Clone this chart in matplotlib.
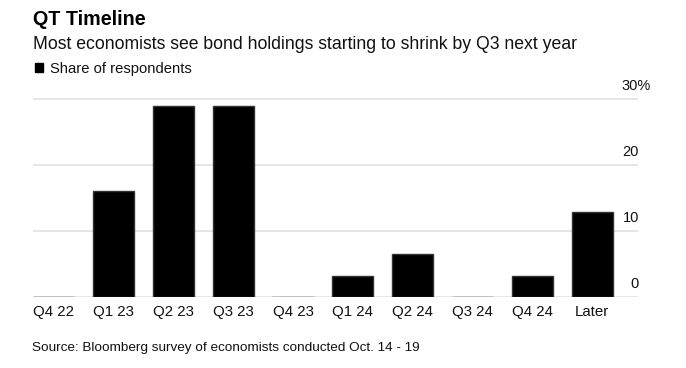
import matplotlib
matplotlib.use("Agg")
import matplotlib.pyplot as plt
import matplotlib.transforms as mtransforms

categories = ["Q4 22", "Q1 23", "Q2 23", "Q3 23", "Q4 23", "Q1 24", "Q2 24", "Q3 24", "Q4 24", "Later"]
share = [0.0, 16.1, 29.0, 29.0, 0.0, 3.2, 6.5, 0.0, 3.2, 12.9]
yticks = [0, 10, 20, 30]
ytick_labels = ["0", "10", "20", "30%"]

title = "QT Timeline"
subtitle = "Most economists see bond holdings starting to shrink by Q3 next year"
legend_label = "Share of respondents"
source = "Source: Bloomberg survey of economists conducted Oct. 14 - 19"

plt.rcParams['font.family'] = ['Liberation Sans', 'DejaVu Sans']

W, H = 686, 368
fig = plt.figure(figsize=(W / 100, H / 100), dpi=100)

def fx(px):
    return px / W

def fy(py):
    return 1 - py / H

ax_left, ax_right = 33, 637.7
y0_px, y30_px = 296.7, 99.0
ymax = 30.3
top_px = y0_px - (y0_px - y30_px) * ymax / 30
ax = fig.add_axes([fx(ax_left), fy(y0_px), fx(ax_right - ax_left), (y0_px - top_px) / H])

x = list(range(len(categories)))
ax.bar(x, share, width=0.69, color="black", edgecolor="#333333", linewidth=1.0, zorder=3)
ax.set_xlim(-0.345, 9.76)
ax.set_ylim(0, ymax)

for t in yticks[1:]:
    ax.axhline(t, color="#e2e2e2", linewidth=1.2, zorder=1)
ax.axhline(0, color="#888888", linewidth=1.0, zorder=2)

for s in ax.spines.values():
    s.set_visible(False)
ax.set_yticks([])
ax.set_xticks(x)
ax.set_xticklabels(categories, fontsize=10.8, color="#111111")
ax.tick_params(axis="x", length=0, pad=6)

off = mtransforms.ScaledTranslation(0, 9 / 100, fig.dpi_scale_trans)
trans = ax.get_yaxis_transform() + off
xr = (639 - ax_left) / (ax_right - ax_left)
xl = (621 - ax_left) / (ax_right - ax_left)
for t, lab in zip(yticks, ytick_labels):
    if lab.endswith("%"):
        ax.text(xl, t, lab, transform=trans, ha="left", va="baseline", fontsize=10.5, color="#111111")
    else:
        ax.text(xr, t, lab, transform=trans, ha="right", va="baseline", fontsize=10.5, color="#111111")

fig.text(fx(33), fy(25), title, fontsize=14.2, fontweight="bold", color="black", va="baseline", ha="left")
fig.text(fx(33), fy(48.7), subtitle, fontsize=12.7, color="#111111", va="baseline", ha="left")
fig.patches.append(plt.Rectangle((fx(35), fy(71.7)), fx(8.3), 8.4 / H, transform=fig.transFigure,
                                 color="black", figure=fig))
fig.text(fx(50), fy(72.5), legend_label, fontsize=10.6, color="#111111", va="baseline", ha="left")
fig.text(fx(32.3), fy(351), source, fontsize=9.7, color="#111111", va="baseline", ha="left")

fig.savefig("out.png", dpi=100)
